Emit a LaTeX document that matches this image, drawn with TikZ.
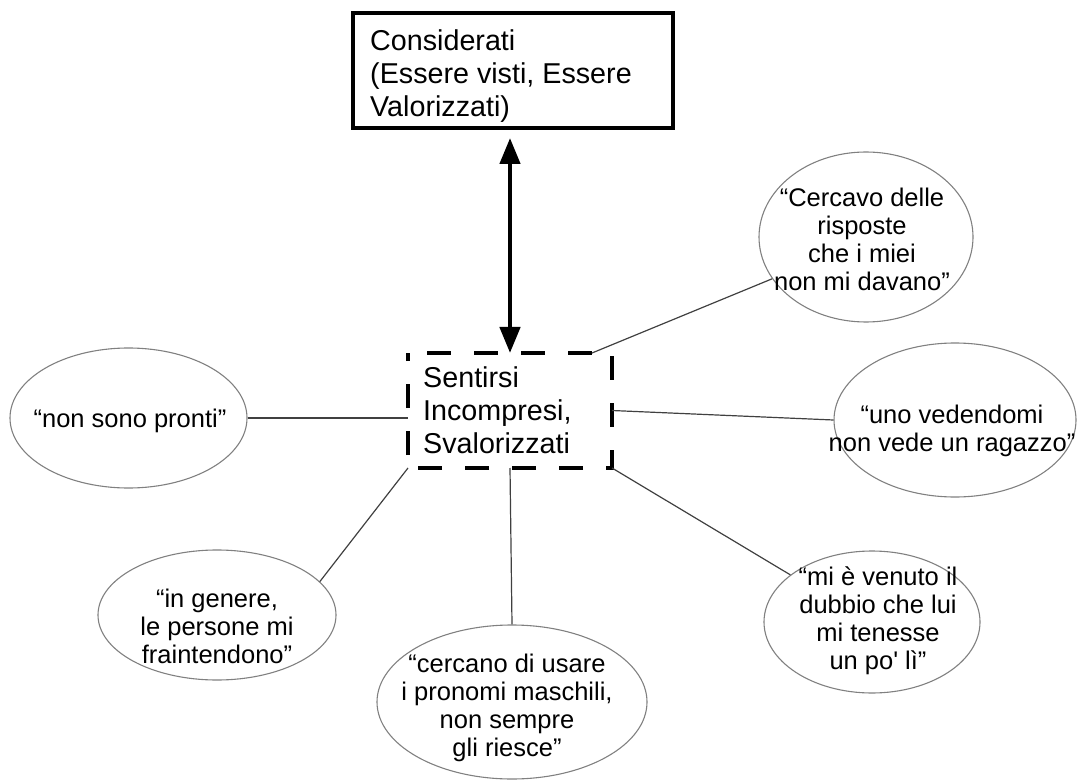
\documentclass[tikz,border=0pt]{standalone}
\usepackage{fontspec}
\setmainfont{Liberation Sans}
\usetikzlibrary{arrows.meta,shapes.geometric,calc}

\newcommand\boxfont{\fontsize{28.7}{33}\selectfont}
\newcommand\quotefont{\fontsize{25.5}{28}\selectfont}

\begin{document}
\begin{tikzpicture}[x=1pt,y=-1pt,
  ell/.style={ellipse, draw=black!50, line width=1.1pt, inner sep=0pt},
  qtext/.style={font=\quotefont, align=center, inner sep=0pt, anchor=north},
  btext/.style={font=\boxfont, align=left, inner sep=0pt, anchor=north west},
  link/.style={draw=black!75, line width=1.2pt},
  solidbox/.style={draw, line width=4pt, inner sep=0pt},
  dashbox/.style={draw=none, inner sep=0pt, outer sep=0pt},
  dashframe/.style={line width=4.5pt, dash pattern=on 24pt off 23pt, dash phase=28pt},
  dbl/.style={line width=4.5pt,
    {Triangle[length=26pt,width=20pt]}-{Triangle[length=26pt,width=20pt]}}
]
\useasboundingbox (0,0) rectangle (1078,783);

% main boxes
\node[solidbox, minimum width=320pt, minimum height=115pt] (top) at (513,70.5) {};
\node[btext] (toptext) at (370,26.9) {\strut Considerati\\(Essere visti, Essere\\Valorizzati)};

\node[dashbox, minimum width=204pt, minimum height=115pt] (dash) at (510,410.5) {};
\draw[dashframe] (dash.north west) -- (dash.north east) -- (dash.south east)
  -- (dash.south west) -- cycle;
\node[btext] (dashtext) at (423,363.9) {\strut Sentirsi\\Incompresi,\\Svalorizzati};

% two-way link between the boxes
\draw[dbl, shorten <=8pt] (top.south -| dash.north) -- (dash.north);

% quotation ellipses
\node[ell, minimum width=237pt, minimum height=140pt] (np) at (128.5,418) {};
\node[qtext] (nptext) at (130,407.4) {\strut “non sono pronti”};

\node[ell, minimum width=214pt, minimum height=170pt] (cv) at (866,237) {};
\node[qtext] (cvtext) at (862,186.4) {\strut “Cercavo delle\\risposte\\che i miei\\non mi davano”};

\node[ell, minimum width=242pt, minimum height=154pt] (uno) at (955,420) {};
\node[qtext] (unotext) at (952,403.4) {\strut “uno vedendomi\\non vede un ragazzo”};

\node[ell, minimum width=238pt, minimum height=130pt] (ig) at (217,615) {};
\node[qtext] (igtext) at (217,587.4) {\strut “in genere,\\le persone mi\\fraintendono”};

\node[ell, minimum width=270pt, minimum height=154pt] (cu) at (512,702) {};
\node[qtext] (cutext) at (507,652.4) {\strut “cercano di usare\\i pronomi maschili,\\non sempre\\gli riesce”};

\node[ell, minimum width=216pt, minimum height=142pt] (mv) at (872,622) {};
\node[qtext] (mvtext) at (878,565.4) {\strut “mi è venuto il\\dubbio che lui\\mi tenesse\\un po\textquotesingle{} lì”};

% connectors
\draw[link] (np.east) -- (np.east -| dash.west);
\draw[link] ($(dash.north east)+(-20,0)$) -- (cv.204);
\draw[link] (dash.east) -- (uno.west);
\draw[link] (dash.south west) -- (ig.18);
\draw[link] (dash.south) -- (cu.north);
\draw[link] (dash.south east) -- (mv.150);
\end{tikzpicture}
\end{document}
